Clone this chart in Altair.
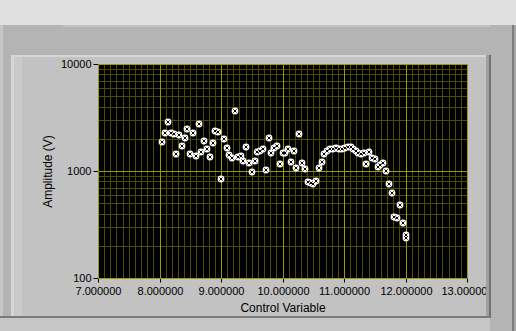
import altair as alt
import pandas as pd

# ---- data ----
control = [8.04, 8.09, 8.14, 8.19, 8.23, 8.27, 8.32, 8.37, 8.41, 8.45,
           8.50, 8.54, 8.59, 8.64, 8.67, 8.72, 8.77, 8.82, 8.87, 8.90,
           8.95, 9.00, 9.05, 9.10, 9.13, 9.18, 9.23, 9.28, 9.33, 9.36,
           9.41, 9.46, 9.50, 9.55, 9.59, 9.63, 9.68, 9.73, 9.78, 9.81,
           9.86, 9.91, 9.96, 10.01, 10.04, 10.09, 10.14, 10.19, 10.22, 10.27,
           10.32, 10.37, 10.41, 10.46, 10.50, 10.54, 10.59, 10.64, 10.67, 10.72,
           10.77, 10.82, 10.87, 10.92, 10.97, 11.02, 11.07, 11.11, 11.15, 11.20,
           11.23, 11.28, 11.33, 11.36, 11.41, 11.46, 11.50, 11.55, 11.59, 11.63,
           11.68, 11.73, 11.78, 11.81, 11.86, 11.91, 11.96, 12.01, 12.01]
amplitude = [1875, 2275, 2884, 2275, 2227, 1448, 2180, 1720, 2043, 2479,
             1448, 2275, 1387, 2761, 1512, 1916, 1613, 1358, 1835, 2375,
             2325, 845, 2000, 1647, 1417, 1329, 3675, 1358, 1387, 1245,
             1683, 1193, 983, 1245, 1512, 1545, 1613, 1026, 2043, 1480,
             1647, 1720, 1168, 1480, 1480, 1613, 1219, 1545, 1071, 2227,
             1193, 1049, 793, 776, 759, 810, 1071, 1219, 1448, 1545,
             1613, 1590, 1647, 1600, 1600, 1647, 1660, 1683, 1613, 1545,
             1480, 1430, 1480, 1168, 1512, 1329, 1300, 1095, 1130, 1193,
             1004, 759, 625, 373, 365, 483, 328, 253, 238]

x_ticks = [7, 8, 9, 10, 11, 12, 13]
y_ticks = [100, 1000, 10000]
x_minor = [round(7 + 0.1 * i, 1) for i in range(61)]
y_minor = [200, 300, 400, 500, 600, 700, 800, 900,
           2000, 3000, 4000, 5000, 6000, 7000, 8000, 9000]

df = pd.DataFrame({"x": control, "y": amplitude})

# ---- layout ----
PL, PT = 98, 64
W, H = 369, 214
FONT = "Liberation Sans"

xs = alt.Scale(domain=[7, 13], nice=False, zero=False, round=True)
ys = alt.Scale(type="log", domain=[100, 10000], nice=False, round=True)


def panel(x1, x2, y1, y2, color):
    return alt.Chart(alt.Data(values=[{}])).mark_rect(color=color).encode(
        x=alt.value(x1 - PL), x2=alt.value(x2 - PL),
        y=alt.value(y1 - PT), y2=alt.value(y2 - PT))


frame = [
    panel(0, 516, 0, 25, "#e0e0e0"),
    panel(0, 516, 25, 55, "#b4b4b4"),
    panel(63, 512, 25, 27, "#c2c2c2"),
    panel(0, 11, 25, 331, "#b4b4b4"),
    panel(0, 3, 25, 331, "#c6c6c6"),
    panel(490, 516, 25, 331, "#b4b4b4"),
    panel(512, 514, 25, 331, "#7e7e7e"),
    panel(514, 516, 25, 331, "#a6a6a6"),
    panel(11, 490, 55, 57, "#d6d6d6"),
    panel(11, 14, 55, 317, "#d6d6d6"),
    panel(14, 22, 57, 317, "#cacaca"),
    panel(486, 489, 55, 317, "#a0a0a0"),
    panel(489, 491, 55, 318, "#707070"),
    panel(0, 491, 316, 318, "#7a7a7a"),
    panel(3, 490, 318, 331, "#c6c6c6"),
]

x_axis = alt.Axis(values=x_ticks, format=".6f", title="Control Variable",
                  grid=False, domain=False, tickSize=4, tickColor="#000000",
                  labelFont=FONT, labelFontSize=11, labelColor="#000000",
                  labelPadding=3, titleFont=FONT, titleFontSize=12,
                  titleFontWeight="normal", titleColor="#000000",
                  titlePadding=6, labelFlush=False, labelOverlap=False,
                  zindex=0)
y_axis = alt.Axis(values=y_ticks, format="d", title="Amplitude (V)",
                  grid=False, domain=False, tickSize=5, tickColor="#000000",
                  labelFont=FONT, labelFontSize=11, labelColor="#000000",
                  labelPadding=2, titleFont=FONT, titleFontSize=12,
                  titleFontWeight="normal", titleColor="#000000",
                  titlePadding=6, labelFlush=False, labelOverlap=False,
                  zindex=0)

X = alt.X("x:Q", scale=xs, axis=x_axis)
Y = alt.Y("y:Q", scale=ys, axis=y_axis)

minor_v = alt.Chart(pd.DataFrame({"x": x_minor})).mark_rule(
    color="#4c4c00", strokeWidth=1, xOffset=0.5).encode(x=X)
minor_h = alt.Chart(pd.DataFrame({"y": y_minor})).mark_rule(
    color="#4c4c00", strokeWidth=1, yOffset=0.5).encode(y=Y)
major_v = alt.Chart(pd.DataFrame({"x": x_ticks})).mark_rule(
    color="#9c9c00", strokeWidth=1, xOffset=0.5).encode(x=X)
major_h = alt.Chart(pd.DataFrame({"y": y_ticks})).mark_rule(
    color="#9c9c00", strokeWidth=1, yOffset=0.5).encode(y=Y)

dots = alt.Chart(df).mark_point(
    shape="circle", filled=True, color="white", size=46, opacity=1).encode(
    x=X, y=Y)
crosses = alt.Chart(df).mark_point(
    shape="M-1,-1L1,1M-1,1L1,-1", filled=False, color="black",
    strokeWidth=1, size=10, opacity=1).encode(x=X, y=Y)

chart = alt.layer(
    minor_v, minor_h, major_v, major_h, dots, crosses, *frame
).properties(
    width=W, height=H,
    padding={"left": PL, "top": PT, "right": 516 - PL - W, "bottom": 331 - PT - H},
    autosize=alt.AutoSizeParams(type="none"),
    background="#c2c2c2",
).configure_view(fill="black", stroke="#d0d0d0", strokeWidth=1)

chart.save("out.html", embed_options={"renderer": "svg", "actions": False})
